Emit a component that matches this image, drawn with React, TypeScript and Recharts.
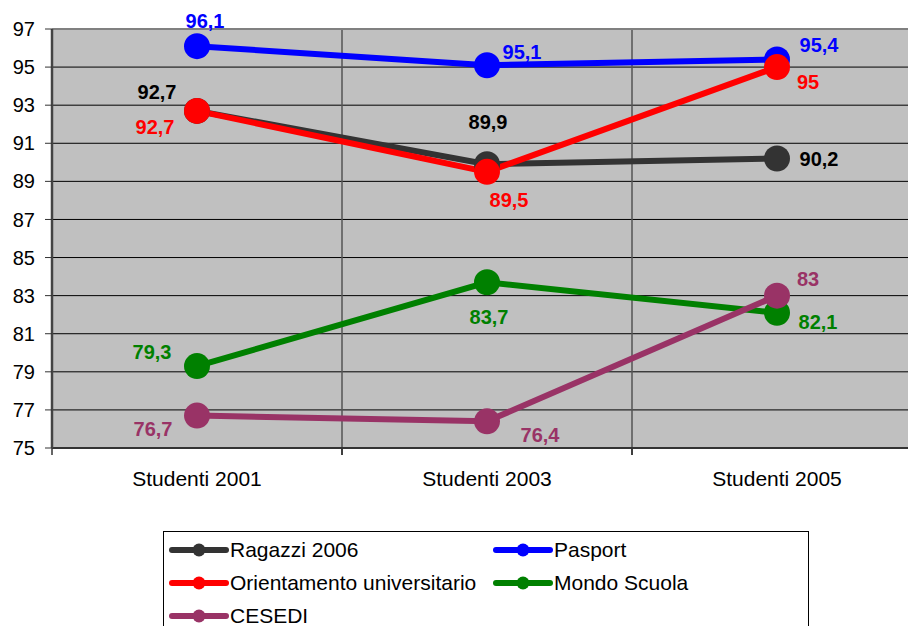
import {
  LineChart,
  Line,
  XAxis,
  YAxis,
  CartesianGrid,
  Legend,
  LabelList,
  ReferenceLine,
} from "recharts";

const categories = ["Studenti 2001", "Studenti 2003", "Studenti 2005"];
const ragazzi2006 = [92.7, 89.9, 90.2];
const pasport = [96.1, 95.1, 95.4];
const orientamento = [92.7, 89.5, 95];
const mondoScuola = [79.3, 83.7, 82.1];
const cesedi = [76.7, 76.4, 83];
const yTicks = [75, 77, 79, 81, 83, 85, 87, 89, 91, 93, 95, 97];

const series = [
  { key: "ragazzi", name: "Ragazzi 2006", values: ragazzi2006, color: "#333333", labelColor: "#000000" },
  { key: "pasport", name: "Pasport", values: pasport, color: "#0000FF", labelColor: "#0000FF" },
  { key: "orientamento", name: "Orientamento universitario", values: orientamento, color: "#FF0000", labelColor: "#FF0000" },
  { key: "mondo", name: "Mondo Scuola", values: mondoScuola, color: "#008000", labelColor: "#008000" },
  { key: "cesedi", name: "CESEDI", values: cesedi, color: "#993366", labelColor: "#993366" },
];

// where each value label sits relative to its point (dx, dy)
const labelOffsets: Record<string, [number, number][]> = {
  ragazzi: [[-40, -19], [1, -42], [42, 0]],
  pasport: [[8, -25], [35, -13], [42, -14]],
  orientamento: [[-42, 16], [22, 28], [31, 15]],
  mondo: [[-45, -14], [2, 35], [41, 9]],
  cesedi: [[-44, 13], [53, 14], [31, -17]],
};

const data = categories.map((name, i) => {
  const row: Record<string, string | number> = { name };
  series.forEach((s) => {
    row[s.key] = s.values[i];
  });
  return row;
});

const FONT = "Arial, 'Liberation Sans', sans-serif";

const fmt = (v: number) => String(v).replace(".", ",");

function makeLabel(key: string, color: string) {
  return (props: any) => {
    const { x, y, value, index } = props;
    const [dx, dy] = labelOffsets[key][index];
    return (
      <text
        x={x + dx}
        y={y + dy}
        textAnchor="middle"
        dominantBaseline="central"
        fontFamily={FONT}
        fontSize={20}
        fontWeight="bold"
        fill={color}
      >
        {fmt(value)}
      </text>
    );
  };
}

function CategoryTick(props: any) {
  const { x, payload } = props;
  const half = payload.offset || 145;
  const axisY = 448;
  return (
    <g>
      <line x1={x - half} x2={x - half} y1={axisY} y2={axisY + 7} stroke="#333" strokeWidth={1.5} />
      <line x1={x + half} x2={x + half} y1={axisY} y2={axisY + 7} stroke="#333" strokeWidth={1.5} />
      <text x={x} y={axisY + 38} textAnchor="middle" fontFamily={FONT} fontSize={21} fill="#000">
        {payload.value}
      </text>
    </g>
  );
}

function LegendBox() {
  return (
    <div
      style={{
        border: "1px solid #000",
        width: 646,
        height: 110,
        boxSizing: "border-box",
        background: "#fff",
        display: "grid",
        gridTemplateColumns: "324px 324px",
        gridAutoRows: "33px",
        paddingTop: 1,
        fontFamily: FONT,
        fontSize: 21,
        color: "#000",
      }}
    >
      {series.map((s) => (
        <div key={s.key} style={{ display: "flex", alignItems: "center", paddingLeft: 4 }}>
          <svg width={62} height={16} style={{ flex: "none" }}>
            <line x1={4} x2={58} y1={8} y2={8} stroke={s.color} strokeWidth={6} strokeLinecap="round" />
            <circle cx={31} cy={8} r={6.5} fill={s.color} />
          </svg>
          <span style={{ whiteSpace: "nowrap" }}>{s.name}</span>
        </div>
      ))}
    </div>
  );
}

export default function App() {
  return (
    <div style={{ position: "absolute", left: 0, top: 0, width: 908, height: 626, overflow: "hidden", background: "#fff" }}>
      <LineChart
        width={930}
        height={626}
        data={data}
        margin={{ top: 29, right: 8, left: 0, bottom: 148 }}
      >
        <CartesianGrid fill="#C0C0C0" stroke="#000" vertical={false} />
        <CartesianGrid
          horizontal={false}
          stroke="#555"
          strokeWidth={1.5}
          verticalCoordinatesGenerator={({ offset }: any) =>
            categories.slice(1).map((_, i) => offset.left + ((i + 1) * offset.width) / categories.length)
          }
        />
        <ReferenceLine y={97} stroke="#808080" strokeWidth={2} />
        <XAxis
          dataKey="name"
          scale="band"
          height={30}
          axisLine={{ stroke: "#333", strokeWidth: 2 }}
          tickLine={false}
          tick={<CategoryTick />}
          interval={0}
        />
        <YAxis
          width={52}
          domain={[75, 97]}
          ticks={yTicks}
          interval={0}
          axisLine={{ stroke: "#444", strokeWidth: 2.5 }}
          tickLine={{ stroke: "#333" }}
          tickSize={7}
          tickMargin={10}
          tick={{ fontFamily: FONT, fontSize: 20, fill: "#000" }}
        />
        <Legend
          verticalAlign="middle"
          align="center"
          layout="horizontal"
          wrapperStyle={{ left: 163, top: 531, width: 648 }}
          content={() => <LegendBox />}
        />
        {series.map((s) => (
          <Line
            key={s.key}
            dataKey={s.key}
            name={s.name}
            stroke={s.color}
            strokeWidth={6}
            dot={{ r: 13, fill: s.color, stroke: "none", strokeWidth: 0 }}
            activeDot={false}
            isAnimationActive={false}
          >
            <LabelList dataKey={s.key} content={makeLabel(s.key, s.labelColor)} />
          </Line>
        ))}
      </LineChart>
    </div>
  );
}
